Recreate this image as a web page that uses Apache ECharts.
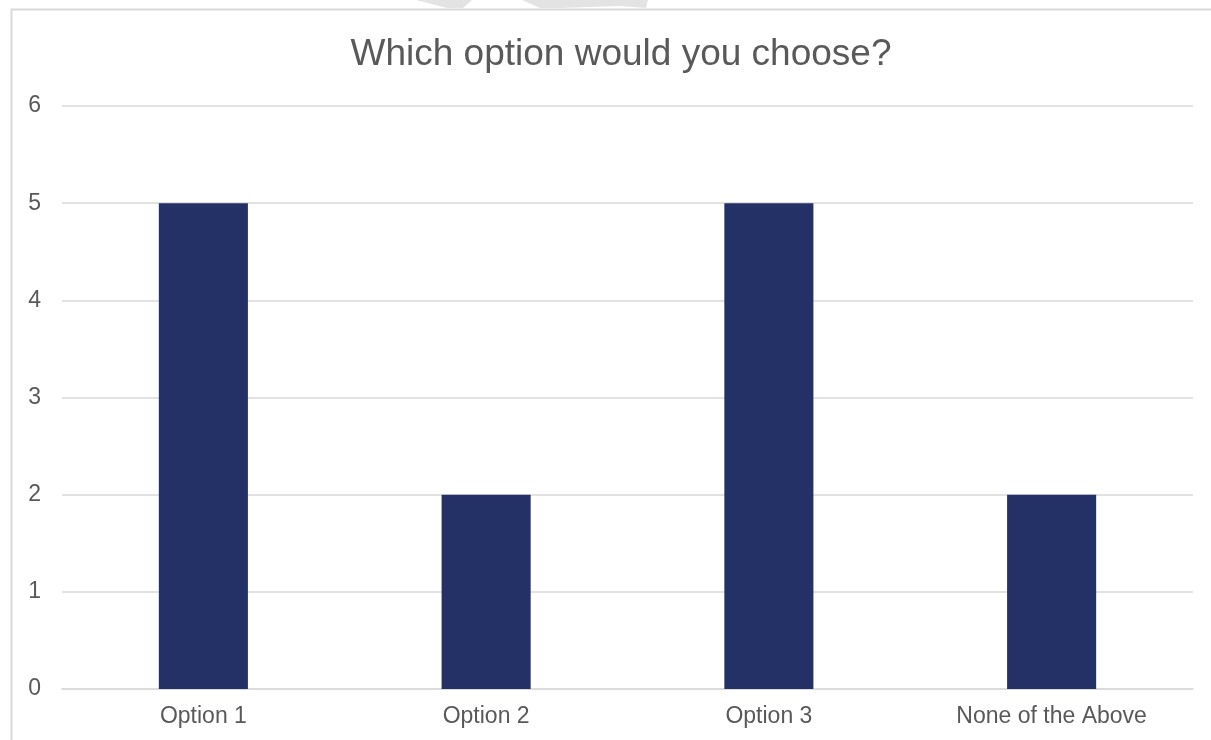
<!DOCTYPE html>
<html>
<head>
<meta charset="utf-8">
<script src="https://cdn.jsdelivr.net/npm/echarts@6/dist/echarts.min.js"></script>
<style>
  html, body { margin: 0; padding: 0; background: #fff; }
  #chart { width: 1211px; height: 740px; }
</style>
</head>
<body>
<div id="chart"></div>
<script>
const titleText = "Which option would you choose?"
const categories = ["Option 1", "Option 2", "Option 3", "None of the Above"]
const votes = [5, 2, 5, 2]
const yTicks = [0, 1, 2, 3, 4, 5, 6]

const chart = echarts.init(document.getElementById("chart"), null, { renderer: "canvas" })

const option = {
  backgroundColor: "#fff",
  animation: false,
  title: {
    text: titleText,
    left: 616,
    top: 31,
    textAlign: "center",
    textStyle: {
      fontFamily: "Liberation Sans, Arial, sans-serif",
      fontSize: 37,
      fontWeight: "normal",
      color: "#595959"
    }
  },
  // chart frame + faint watermark pieces peeking over the top edge
  graphic: [
    {
      type: "polyline",
      shape: { points: [[11.5, 740], [11.5, 9.5], [1211, 9.5]] },
      style: { stroke: "#d9d9d9", lineWidth: 2, fill: null },
      silent: true
    },
    {
      type: "polygon",
      shape: { points: [[416, 0], [472, 0], [463, 8], [447, 8]] },
      style: { fill: "#e3e3e3" },
      silent: true
    },
    {
      type: "polygon",
      shape: { points: [[522, 0], [648, 0], [646, 8], [620, 6], [560, 8], [540, 8]] },
      style: { fill: "#e3e3e3" },
      silent: true
    }
  ],
  grid: {
    left: 62,
    right: 18,
    top: 106,
    bottom: 51
  },
  xAxis: {
    type: "category",
    data: categories,
    axisLine: { show: true, lineStyle: { color: "#d9d9d9", width: 1.5 } },
    axisTick: { show: false },
    axisLabel: {
      margin: 16,
      fontFamily: "Liberation Sans, Arial, sans-serif",
      fontSize: 23,
      color: "#595959"
    }
  },
  yAxis: {
    type: "value",
    min: yTicks[0],
    max: yTicks[yTicks.length - 1],
    interval: 1,
    axisLine: { show: false },
    axisTick: { show: false },
    splitLine: { lineStyle: { color: "#d9d9d9", width: 1.5 } },
    axisLabel: {
      margin: 21,
      fontFamily: "Liberation Sans, Arial, sans-serif",
      fontSize: 23,
      color: "#595959"
    }
  },
  series: [
    {
      name: "Votes",
      type: "bar",
      data: votes,
      barWidth: "31.5%",
      itemStyle: { color: "#233167" }
    }
  ]
}

chart.setOption(option)
</script>
</body>
</html>
